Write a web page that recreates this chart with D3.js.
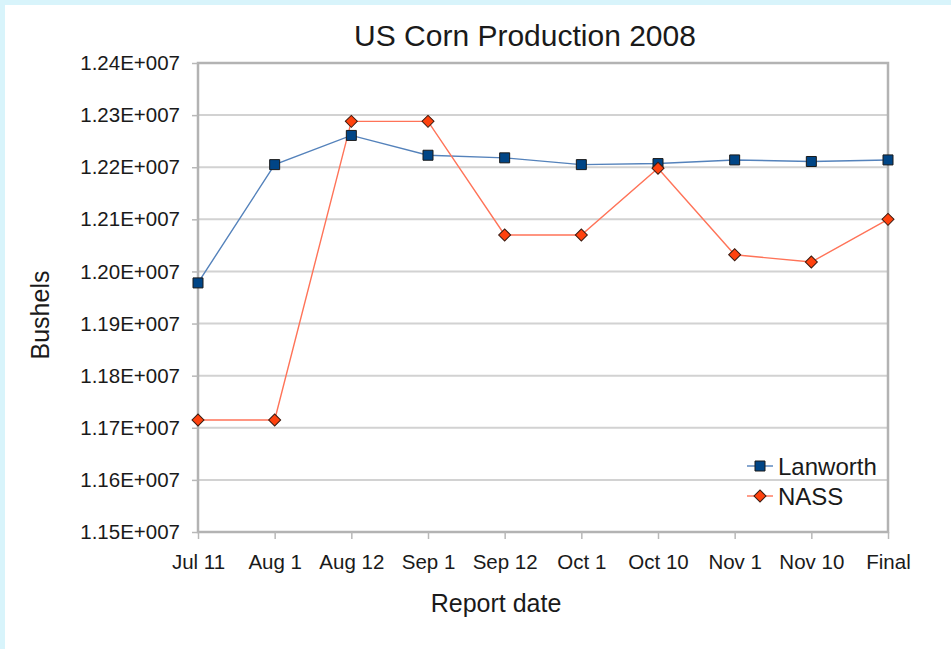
<!DOCTYPE html>
<html>
<head>
<meta charset="utf-8">
<script src="https://cdn.jsdelivr.net/npm/d3@7"></script>
<style>
body { margin: 0; background: #fff; }
svg { display: block; font-family: 'Liberation Sans', Arial, sans-serif; }
.grid line { stroke: #d2d2d2; stroke-width: 2px; }
.axis path { display: none; }
.axis line { stroke: #b8b8b8; stroke-width: 1.5px; }
.axis text { font-size: 20.5px; fill: #1a1a1a; }
</style>
</head>
<body>
<svg width="951" height="649"></svg>
<script>
//Report dates and series values (bushels).
var dates = ['Jul 11', 'Aug 1', 'Aug 12', 'Sep 1', 'Sep 12', 'Oct 1', 'Oct 10', 'Nov 1', 'Nov 10', 'Final'];
var lanworth = [11978000, 12205000, 12261000, 12223000, 12218000, 12205000, 12207000, 12214000, 12211000, 12214000];
var nass = [11715000, 11715000, 12288000, 12288000, 12070000, 12070000, 12198000, 12032000, 12018000, 12100000];
var yTicks = [11500000, 11600000, 11700000, 11800000, 11900000, 12000000, 12100000, 12200000, 12300000, 12400000];

var svg = d3.select('svg'),
	width = +svg.attr('width'), height = +svg.attr('height');

//Light cyan frame of the original screenshot.
svg.append('rect').attr('width', width).attr('height', height).style('fill', '#d8f4fb');
svg.append('rect').attr('x', 5).attr('y', 5).attr('width', width - 5).attr('height', height - 5).style('fill', '#fff');

var margin = {top: 63, right: 63, bottom: 117, left: 198};
var inner = svg.append('g')
	.attr('transform', 'translate(' + margin.left + ',' + margin.top + ')');
var w = width - margin.left - margin.right,
		h = height - margin.top - margin.bottom;

var xScale = d3.scalePoint().domain(dates).range([0, w]);
var yScale = d3.scaleLinear().domain([11500000, 12400000]).range([h, 0]);

function fmt(d) { return (d / 1e7).toFixed(2) + 'E+007'; }

//Horizontal gridlines.
inner.append('g').attr('class', 'grid')
	.selectAll('line').data(yTicks).enter().append('line')
	.attr('x1', 0).attr('x2', w)
	.attr('y1', function(d) { return yScale(d); })
	.attr('y2', function(d) { return yScale(d); });

//Plot frame.
inner.append('rect')
	.attr('width', w).attr('height', h)
	.style('fill', 'none').style('stroke', '#b3b3b3').style('stroke-width', '2.5px');

//Axes.
inner.append('g').attr('class', 'axis')
	.call(d3.axisLeft(yScale).tickValues(yTicks).tickFormat(fmt).tickSize(6).tickPadding(12));
inner.append('g').attr('class', 'axis')
	.attr('transform', 'translate(0,' + h + ')')
	.call(d3.axisBottom(xScale).tickSize(7).tickPadding(15));

//Lines.
var line = function(vals) {
	return d3.line()
		.x(function(d, i) { return xScale(dates[i]); })
		.y(function(d) { return yScale(d); })(vals);
};
var blue = '#004586', blueLine = '#5482bb', red = '#ff420e', redLine = '#ff7358';

inner.append('path').attr('d', line(lanworth))
	.style('fill', 'none').style('stroke', blueLine).style('stroke-width', 1.4);
inner.append('path').attr('d', line(nass))
	.style('fill', 'none').style('stroke', redLine).style('stroke-width', 1.4);

//Markers: squares, and squares turned 45 degrees for diamonds.
var square = d3.symbol().type(d3.symbolSquare).size(100);
var diamond = d3.symbol().type(d3.symbolSquare).size(72);
inner.selectAll('.ptL').data(lanworth).enter().append('path')
	.attr('d', square)
	.attr('transform', function(d, i) { return 'translate(' + xScale(dates[i]) + ',' + yScale(d) + ')'; })
	.style('fill', blue).style('stroke', '#1a1a1a').style('stroke-width', 1);
inner.selectAll('.ptN').data(nass).enter().append('path')
	.attr('d', diamond)
	.attr('transform', function(d, i) { return 'translate(' + xScale(dates[i]) + ',' + yScale(d) + ') rotate(45)'; })
	.style('fill', red).style('stroke', '#3a1a10').style('stroke-width', 1);

//Legend, bottom right inside the plot.
var legend = [{name: 'Lanworth', stroke: blueLine, fill: blue, sym: square, rot: 0, stk: '#1a1a1a'},
							{name: 'NASS', stroke: redLine, fill: red, sym: diamond, rot: 45, stk: '#3a1a10'}];
var lg = inner.selectAll('.lg').data(legend).enter().append('g')
	.attr('transform', function(d, i) { return 'translate(' + (w - 141) + ',' + (403 + i * 30) + ')'; });
lg.append('line').attr('x1', 0).attr('x2', 26)
	.style('stroke', function(d) { return d.stroke; }).style('stroke-width', 1.4);
lg.append('path').attr('d', function(d) { return d.sym(); })
	.attr('transform', function(d) { return 'translate(13,0) rotate(' + d.rot + ')'; })
	.style('fill', function(d) { return d.fill; }).style('stroke', function(d) { return d.stk; });
lg.append('text').attr('x', 31).attr('dy', '0.36em')
	.style('font-size', '24px').style('fill', '#1a1a1a')
	.text(function(d) { return d.name; });

//Titles.
svg.append('text').attr('x', 525).attr('y', 46).attr('text-anchor', 'middle')
	.style('font-size', '30px').style('fill', '#1a1a1a').text('US Corn Production 2008');
svg.append('text').attr('x', 496).attr('y', 612).attr('text-anchor', 'middle')
	.style('font-size', '25px').style('fill', '#1a1a1a').text('Report date');
svg.append('text').attr('transform', 'translate(49,315) rotate(-90)').attr('text-anchor', 'middle')
	.style('font-size', '25px').style('fill', '#1a1a1a').text('Bushels');
</script>
</body>
</html>
